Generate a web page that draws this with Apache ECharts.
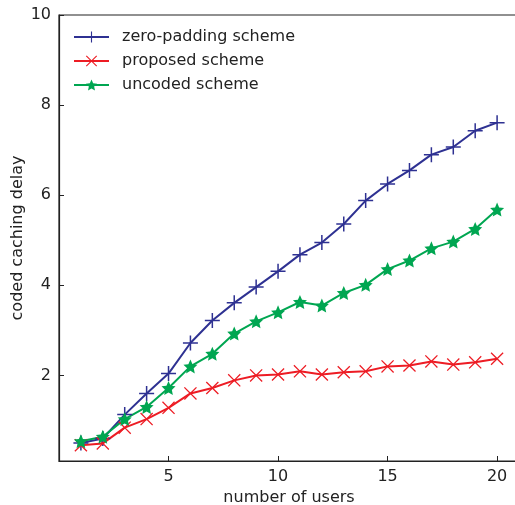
<!DOCTYPE html>
<html><head><meta charset="utf-8">
<script src="https://cdn.jsdelivr.net/npm/echarts@6/dist/echarts.min.js"></script>
<style>html,body{margin:0;padding:0;background:#fff}#c{width:515px;height:505px}</style>
</head><body><div id="c"></div>
<script>
const users = [1,2,3,4,5,6,7,8,9,10,11,12,13,14,15,16,17,18,19,20];
const zeroPadding = [0.50,0.60,1.13,1.60,2.04,2.72,3.22,3.61,3.96,4.31,4.68,4.95,5.36,5.88,6.25,6.55,6.90,7.07,7.43,7.61];
const proposed = [0.45,0.49,0.84,1.03,1.28,1.60,1.72,1.89,2.00,2.02,2.09,2.02,2.07,2.09,2.20,2.22,2.31,2.24,2.29,2.37];
const uncoded = [0.54,0.64,1.03,1.30,1.72,2.20,2.48,2.93,3.20,3.40,3.63,3.55,3.83,4.01,4.36,4.55,4.82,4.97,5.25,5.68];
const xTicks = [5,10,15,20];
const yTicks = [2,4,6,8,10];
const names = ['zero-padding scheme','proposed scheme','uncoded scheme'];

const plusPath = 'path://M-1,-10 L1,-10 L1,-1 L10,-1 L10,1 L1,1 L1,10 L-1,10 L-1,1 L-10,1 L-10,-1 L-1,-1 Z';
const crossPath = 'path://M-10,-8.6 L-8.6,-10 L0,-1.4 L8.6,-10 L10,-8.6 L1.4,0 L10,8.6 L8.6,10 L0,1.4 L-8.6,10 L-10,8.6 L-1.4,0 Z';
const starPath = 'path://M0,-10 L2.8,-3.8 L9.5,-3.1 L4.5,1.5 L5.9,8.1 L0,4.8 L-5.9,8.1 L-4.5,1.5 L-9.5,-3.1 L-2.8,-3.8 Z';

const font = 'DejaVu Sans';
const txt = '#222';
function pairs(v){ return users.map((u,i)=>[u,v[i]]); }
function ser(name, data, color, symbol, size){
  return {name, type:'line', data:pairs(data), symbol, symbolSize:size, showSymbol:true,
    lineStyle:{color, width:2}, itemStyle:{color}, emphasis:{disabled:true}, animation:false};
}
const chart = echarts.init(document.getElementById('c'), null, {renderer:'canvas'});
chart.setOption({
  backgroundColor:'#fff',
  animation:false,
  grid:{left:59, top:15, right:-4, bottom:44, show:true, borderColor:'#222', borderWidth:1.2,
    containLabel:false, outerBoundsMode:'none'},
  legend:{left:73, top:29, padding:0, orient:'vertical', itemWidth:35, itemHeight:14, itemGap:8,
    textStyle:{fontFamily:font, fontSize:16, color:txt, padding:[0,0,0,8]}, data:names, selectedMode:false},
  xAxis:{type:'value', min:0, max:21, name:'number of users', nameLocation:'middle', nameGap:29,
    nameMoveOverlap:false,
    nameTextStyle:{fontFamily:font, fontSize:16, color:txt},
    axisLine:{show:true, lineStyle:{color:'#222', width:1.2}},
    axisTick:{show:true, inside:true, length:5, customValues:xTicks, lineStyle:{color:'#222'}},
    axisLabel:{customValues:xTicks, fontFamily:font, fontSize:16, color:txt, margin:8},
    splitLine:{show:false}},
  yAxis:{type:'value', min:0.1, max:10, name:'coded caching delay', nameLocation:'middle', nameGap:33,
    nameMoveOverlap:false,
    nameTextStyle:{fontFamily:font, fontSize:16, color:txt},
    axisLine:{show:true, lineStyle:{color:'#222', width:1.2}},
    axisTick:{show:true, inside:true, length:5, customValues:yTicks, lineStyle:{color:'#222'}},
    axisLabel:{customValues:yTicks, fontFamily:font, fontSize:16, color:txt, margin:8},
    splitLine:{show:false}},
  series:[
    ser(names[0], zeroPadding, '#2e3192', plusPath, 15),
    ser(names[1], proposed, '#ed1c24', crossPath, 13),
    ser(names[2], uncoded, '#00a651', starPath, 14)
  ]
});
</script></body></html>
